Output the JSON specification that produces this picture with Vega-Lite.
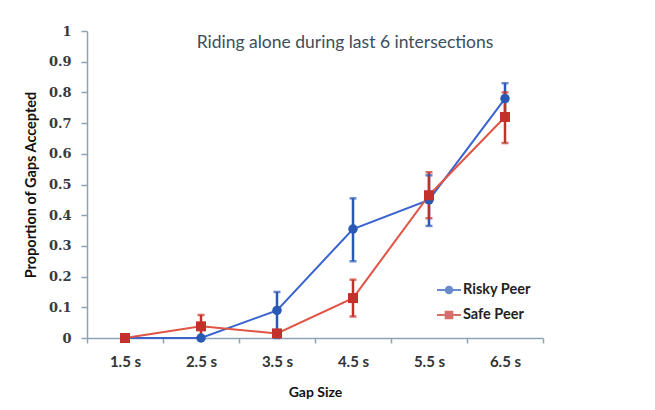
{
  "$schema": "https://vega.github.io/schema/vega-lite/v6.json",
  "width": 456,
  "height": 307,
  "autosize": {"type": "none"},
  "padding": {"left": 87, "top": 31, "right": 112, "bottom": 72},
  "background": "#ffffff",
  "config": {
    "view": {"stroke": null},
    "font": "Lato",
    "axis": {
      "domainColor": "#8fa3b6",
      "tickColor": "#8fa3b6",
      "domainWidth": 1.5,
      "tickWidth": 1.5,
      "grid": false,
      "labelFontWeight": "bold",
      "labelColor": "#3a3a3a",
      "titleFont": "Lato",
      "titleFontWeight": "bold",
      "titleColor": "#111111"
    }
  },
  "title": {
    "text": "Riding alone during last 6 intersections",
    "fontSize": 17.5,
    "fontWeight": "normal",
    "font": "Lato",
    "color": "#3d4d5d",
    "anchor": "middle",
    "offset": -26,
    "dx": 30
  },
  "data": {
    "values": [
      {"gap": "1.5 s", "series": "Risky Peer", "value": 0, "lo": 0, "hi": 0},
      {"gap": "2.5 s", "series": "Risky Peer", "value": 0, "lo": 0, "hi": 0},
      {"gap": "3.5 s", "series": "Risky Peer", "value": 0.09, "lo": 0, "hi": 0.15},
      {"gap": "4.5 s", "series": "Risky Peer", "value": 0.355, "lo": 0.25, "hi": 0.455},
      {"gap": "5.5 s", "series": "Risky Peer", "value": 0.45, "lo": 0.365, "hi": 0.53},
      {"gap": "6.5 s", "series": "Risky Peer", "value": 0.78, "lo": 0.73, "hi": 0.83},
      {"gap": "1.5 s", "series": "Safe Peer", "value": 0, "lo": 0, "hi": 0},
      {"gap": "2.5 s", "series": "Safe Peer", "value": 0.038, "lo": 0, "hi": 0.075},
      {"gap": "3.5 s", "series": "Safe Peer", "value": 0.015, "lo": 0.015, "hi": 0.015},
      {"gap": "4.5 s", "series": "Safe Peer", "value": 0.13, "lo": 0.07, "hi": 0.19},
      {"gap": "5.5 s", "series": "Safe Peer", "value": 0.465, "lo": 0.39, "hi": 0.54},
      {"gap": "6.5 s", "series": "Safe Peer", "value": 0.72, "lo": 0.635, "hi": 0.8}
    ]
  },
  "encoding": {
    "x": {
      "field": "gap",
      "type": "nominal",
      "sort": ["1.5 s", "2.5 s", "3.5 s", "4.5 s", "5.5 s", "6.5 s"],
      "scale": {"paddingInner": 0, "paddingOuter": 0},
      "axis": {
        "title": "Gap Size",
        "titleFontSize": 14,
        "labelAngle": 0,
        "labelFont": "Lato",
        "labelFontSize": 15,
        "labelFontWeight": "bold",
        "labelColor": "#333333",
        "tickBand": "extent",
        "tickSize": 5,
        "labelPadding": 11,
        "titlePadding": 16
      }
    }
  },
  "layer": [
    {
      "mark": {"type": "line", "strokeWidth": 2},
      "encoding": {
        "y": {
          "field": "value",
          "type": "quantitative",
          "scale": {"domain": [0, 1]},
          "axis": {
            "title": "Proportion of Gaps Accepted",
            "titleFontSize": 14.5,
            "labelFont": "DejaVu Serif",
            "labelFontSize": 13,
            "labelFontWeight": "bold",
            "tickCount": 10,
            "format": ".1~f",
            "tickSize": 6,
            "labelPadding": 10,
            "titlePadding": 10
          }
        },
        "detail": {"field": "series", "type": "nominal"},
        "stroke": {
          "condition": {"test": "datum.series === 'Risky Peer'", "value": "#3a63cf"},
          "value": "#e05446"
        }
      }
    },
    {
      "mark": {"type": "rule", "strokeWidth": 2.5},
      "encoding": {
        "y": {"field": "lo", "type": "quantitative"},
        "y2": {"field": "hi"},
        "color": {
          "field": "series",
          "type": "nominal",
          "scale": {"domain": ["Risky Peer", "Safe Peer"], "range": ["#2a58b5", "#c4302b"]},
          "legend": {
            "title": null,
            "orient": "none",
            "legendX": 350,
            "legendY": 247,
            "labelFontSize": 14.5,
            "labelFontWeight": "bold",
            "labelFont": "Lato",
            "labelColor": "#222222",
            "symbolSize": 576,
            "symbolOpacity": 1,
            "symbolStrokeWidth": 0,
            "rowPadding": 6,
            "labelOffset": 2
          }
        }
      }
    },
    {
      "mark": {"type": "tick", "size": 7, "thickness": 2.5},
      "encoding": {
        "y": {"field": "lo", "type": "quantitative"},
        "color": {"field": "series", "type": "nominal"}
      }
    },
    {
      "mark": {"type": "tick", "size": 7, "thickness": 2.5},
      "encoding": {
        "y": {"field": "hi", "type": "quantitative"},
        "color": {"field": "series", "type": "nominal"}
      }
    },
    {
      "transform": [{"filter": "datum.series === 'Risky Peer'"}],
      "mark": {"type": "point", "filled": true, "opacity": 1, "shape": "circle", "size": 90},
      "encoding": {
        "y": {"field": "value", "type": "quantitative"},
        "color": {"field": "series", "type": "nominal"}
      }
    },
    {
      "transform": [{"filter": "datum.series === 'Safe Peer'"}],
      "mark": {"type": "point", "filled": true, "opacity": 1, "shape": "square", "size": 100},
      "encoding": {
        "y": {"field": "value", "type": "quantitative"},
        "color": {"field": "series", "type": "nominal"}
      }
    },
    {
      "mark": {"type": "point", "filled": true, "opacity": 0, "size": 10},
      "encoding": {
        "y": {"field": "value", "type": "quantitative"},
        "color": {"field": "series", "type": "nominal"},
        "shape": {
          "field": "series",
          "type": "nominal",
          "scale": {
            "domain": ["Risky Peer", "Safe Peer"],
            "range": [
              "M-1,-0.09H1V0.09H-1Z M-0.36,0A0.36,0.36 0 1,1 0.36,0A0.36,0.36 0 1,1 -0.36,0Z",
              "M-1,-0.09H1V0.09H-1Z M-0.36,-0.36H0.36V0.36H-0.36Z"
            ]
          },
          "legend": {
            "title": null,
            "orient": "none",
            "legendX": 350,
            "legendY": 247,
            "labelFontSize": 14.5,
            "labelFontWeight": "bold",
            "labelFont": "Lato",
            "labelColor": "#222222",
            "symbolSize": 576,
            "symbolOpacity": 1,
            "symbolStrokeWidth": 0,
            "rowPadding": 6,
            "labelOffset": 2
          }
        }
      }
    }
  ]
}
